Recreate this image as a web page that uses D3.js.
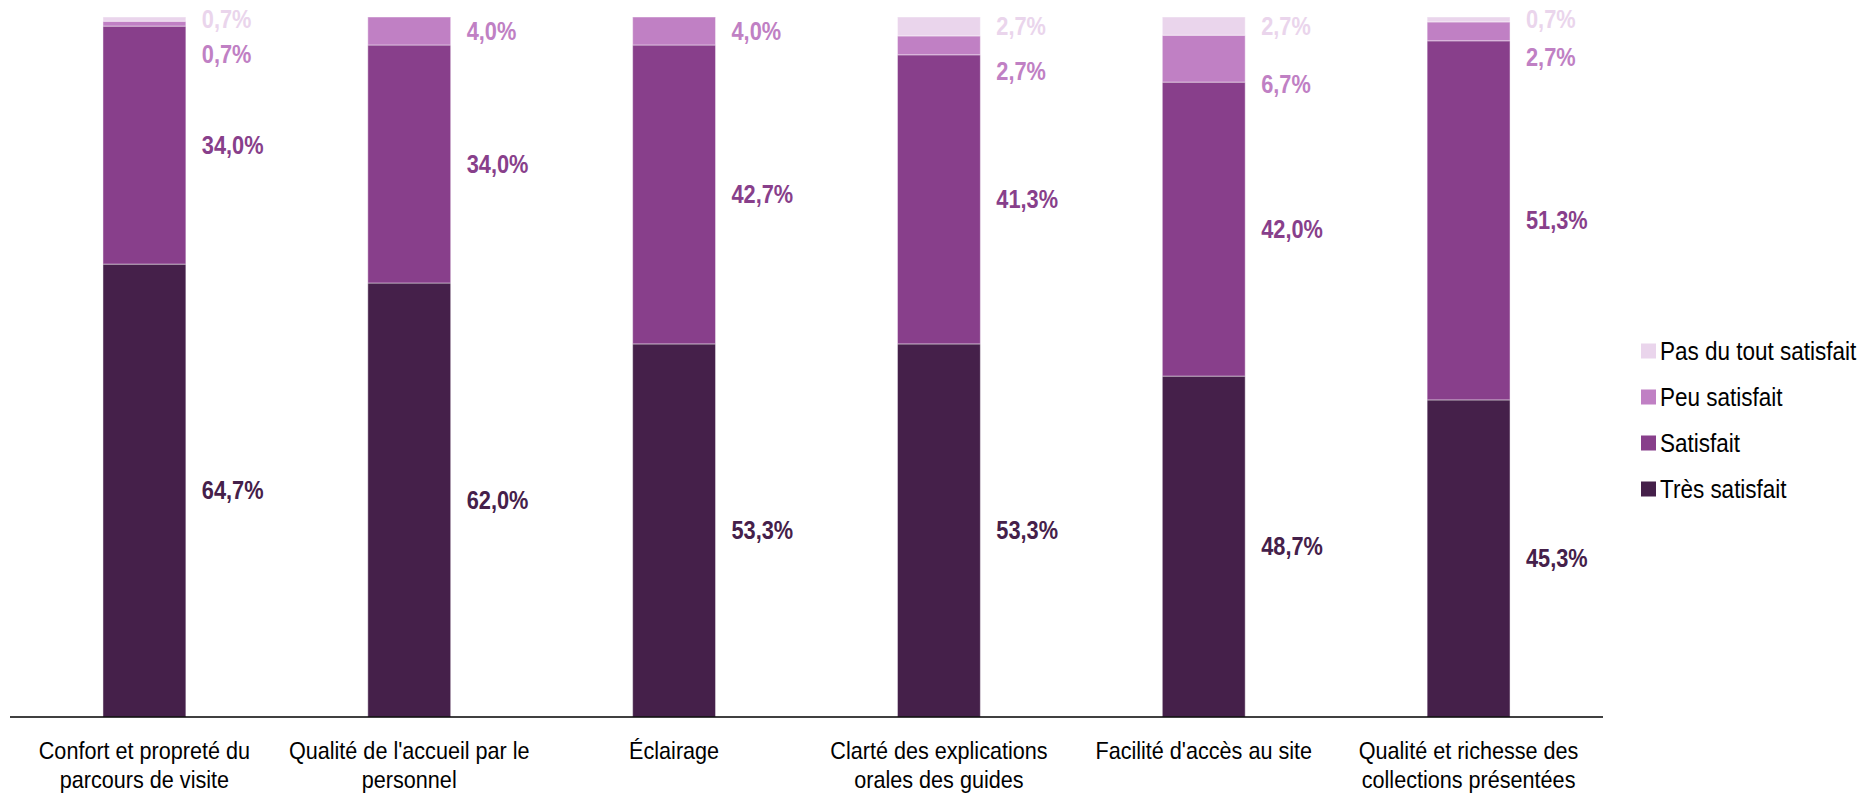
<!DOCTYPE html>
<html><head><meta charset="utf-8">
<script src="https://cdn.jsdelivr.net/npm/d3@7"></script>
<style>
html,body{margin:0;padding:0;background:#fff;}
svg{display:block;font-family:"Liberation Sans Narrow","Arial Narrow","Liberation Sans",Arial,sans-serif;}
</style></head>
<body>
<svg id="chart" width="1873" height="794"></svg>
<script>
const categories = [
  ["Confort et propreté du","parcours de visite"],
  ["Qualité de l'accueil par le","personnel"],
  ["Éclairage"],
  ["Clarté des explications","orales des guides"],
  ["Facilité d'accès au site"],
  ["Qualité et richesse des","collections présentées"]
];
const seriesNames = ["Très satisfait","Satisfait","Peu satisfait","Pas du tout satisfait"];
const tresSatisfait = [64.7, 62.0, 53.3, 53.3, 48.7, 45.3];
const satisfait     = [34.0, 34.0, 42.7, 41.3, 42.0, 51.3];
const peuSatisfait  = [0.7, 4.0, 4.0, 2.7, 6.7, 2.7];
const pasDuTout     = [0.7, 0, 0, 2.7, 2.7, 0.7];
const colors = ["#45204a","#883f8b","#c080c4","#ead5ec"];

const svg = d3.select("#chart");
const series = [tresSatisfait, satisfait, peuSatisfait, pasDuTout];
const keys = categories.map((c,i)=>i);
const table = keys.map(i => {
  const o = {i};
  seriesNames.forEach((n,k)=> o[n] = series[k][i]);
  return o;
});
const stacked = d3.stack().keys(seriesNames)(table);

const x = d3.scaleBand().domain(keys).range([12, 1601]).paddingInner(0.687).paddingOuter(0.3435);
const y = d3.scaleLinear().domain([0, 100]).range([717, 17]);

const fmt = v => d3.format(".1f")(v).replace(".", ",") + "%";

// condensed text helper
function ctext(parent, px, py, sx) {
  return parent.append("text").attr("transform", `translate(${px},${py}) scale(${sx},1)`);
}

// bars
stacked.forEach((layer, k) => {
  svg.append("g").selectAll("rect").data(layer.filter(d => d[1]-d[0] > 0)).join("rect")
    .attr("x", d => x(d.data.i))
    .attr("width", x.bandwidth())
    .attr("y", d => y(Math.min(d[1],100)))
    .attr("height", d => y(d[0]) - y(Math.min(d[1],100)))
    .attr("fill", colors[k])
    .attr("stroke", "#ffffff").attr("stroke-opacity", 0.45).attr("stroke-width", 1);
});

// value labels
keys.forEach(i => {
  const mids = stacked.map(layer => {
    const d = layer[i];
    return (y(d[0]) + y(Math.min(d[1],100))) / 2;
  });
  const ys = mids.slice();
  if (pasDuTout[i] > 0) {
    ys[3] = Math.max(mids[3], 19);
    ys[2] = Math.max(mids[2] + 26, ys[3] + 35);
  }
  stacked.forEach((layer, k) => {
    const v = series[k][i];
    if (!(v > 0)) return;
    ctext(svg, x(i) + x.bandwidth() + 16, ys[k], 0.87)
      .attr("dy", "0.35em")
      .attr("fill", colors[k])
      .attr("font-weight", "bold")
      .attr("font-size", 25)
      .text(fmt(v));
  });
});

// axis
const axis = svg.append("g").attr("transform", "translate(0,717)")
  .call(d3.axisBottom(x).tickSize(0).tickFormat(""));
axis.select(".domain").attr("stroke", "#000").attr("stroke-width", 1.5).attr("d", "M10,0H1603");
keys.forEach(i => {
  const t = ctext(svg, x(i) + x.bandwidth()/2, 759, 0.9)
    .attr("text-anchor", "middle")
    .attr("font-size", 24)
    .attr("fill", "#000");
  categories[i].forEach((line, j) => {
    t.append("tspan").attr("x", 0).attr("dy", j === 0 ? 0 : 29).text(line);
  });
});

// legend
const legendOrder = [3,2,1,0];
const leg = svg.append("g");
legendOrder.forEach((k, j) => {
  const cy = 351 + j * 46;
  leg.append("rect").attr("x", 1641).attr("y", cy - 7.5).attr("width", 15).attr("height", 15).attr("fill", colors[k]);
  ctext(leg, 1660, cy, 0.9).attr("dy", "0.35em")
    .attr("font-size", 25).attr("fill", "#000").text(seriesNames[k]);
});
</script>
</body></html>
